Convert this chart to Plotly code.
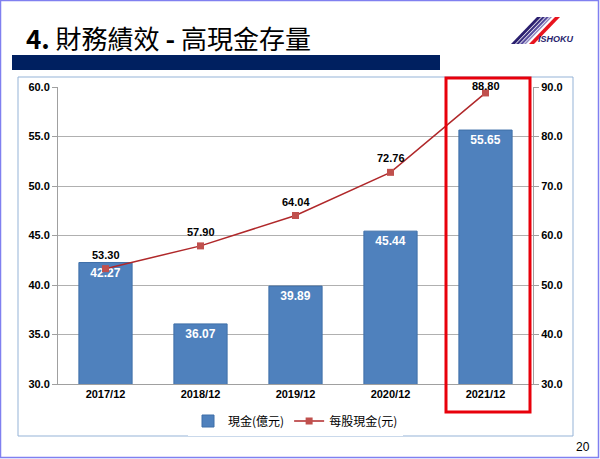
import plotly.graph_objects as go

categories = ["2017/12", "2018/12", "2019/12", "2020/12", "2021/12"]
cash = [42.27, 36.07, 39.89, 45.44, 55.65]
cash_per_share = [53.30, 57.90, 64.04, 72.76, 88.80]
left_ticks = [30, 35, 40, 45, 50, 55, 60]
right_ticks = [30, 40, 50, 60, 70, 80, 90]

W, H = 600, 459
L, R, T, B = 58, 533, 87, 384
Y2_MIN, Y2_MAX = 30, 90


def px(X):
    return (X - L) / (R - L)


def py(Y):
    return (B - Y) / (B - T)


fig = go.Figure()
fig.add_trace(go.Bar(
    x=categories, y=cash, name="現金(億元)",
    marker=dict(color="#4F81BD", line=dict(color="#3E6FA8", width=1)),
    width=0.56,
    text=[f"{v:.2f}" for v in cash], textposition="inside", insidetextanchor="end",
    textfont=dict(color="white", size=12, family="Liberation Sans"),
    texttemplate="<b>%{text}</b>",
))
fig.add_trace(go.Scatter(
    x=categories, y=cash_per_share, name="每股現金(元)", yaxis="y2",
    mode="lines+markers",
    line=dict(color="#B0282A", width=1.5),
    marker=dict(symbol="square", size=7, color="#C0504D"),
    cliponaxis=False,
))

shapes = []
# outer slide border
shapes.append(dict(type="rect", xref="paper", yref="paper", x0=px(0.5), x1=px(598.5), y0=py(0.5), y1=py(457.5),
                   line=dict(color="#8080F0", width=1.5)))
# chart frame
shapes.append(dict(type="rect", xref="paper", yref="paper", x0=px(18), x1=px(573), y0=py(77), y1=py(436),
                   line=dict(color="#95B3D7", width=1)))
# navy bar under title
shapes.append(dict(type="rect", xref="paper", yref="paper", x0=px(12), x1=px(440), y0=py(55), y1=py(70),
                   fillcolor="#002060", line=dict(width=0)))
# highlight rect
shapes.append(dict(type="rect", xref="paper", yref="paper", x0=px(446), x1=px(530), y0=py(78), y1=py(412),
                   line=dict(color="#E8000B", width=3)))


# logo stripes
def para(x_bl, w, color):
    xb0, xb1 = x_bl, x_bl + w
    dx = 26
    yb, yt = 44, 17
    path = (f"M {px(xb0)} {py(yb)} L {px(xb1)} {py(yb)} L {px(xb1 + dx)} {py(yt)} "
            f"L {px(xb0 + dx)} {py(yt)} Z")
    return dict(type="path", xref="paper", yref="paper", path=path, fillcolor=color, line=dict(width=0))


shapes.append(para(511, 4, "#2A1F6E"))
shapes.append(para(516, 3, "#3A2F80"))
shapes.append(para(520, 3, "#5A4FA0"))
shapes.append(para(524, 2, "#8E88C0"))
shapes.append(para(529, 5, "#E8141E"))

annotations = [
    dict(text="<b>4.</b> 財務績效 <b>-</b> 高現金存量", xref="paper", yref="paper", x=px(24), y=py(38),
         xanchor="left", yanchor="middle", showarrow=False,
         font=dict(size=26, color="black", family="Noto Sans CJK TC")),
    dict(text="<i><b>ISHOKU</b></i>", xref="paper", yref="paper", x=px(536), y=py(39),
         xanchor="left", yanchor="middle", showarrow=False,
         font=dict(size=9, color="#2A1F6E", family="Liberation Sans")),
    dict(text="20", xref="paper", yref="paper", x=px(592), y=py(447),
         xanchor="right", yanchor="middle", showarrow=False,
         font=dict(size=12, color="black", family="Liberation Sans")),
]

# line data labels: above each point, kept inside the plot top
for c, v in zip(categories, cash_per_share):
    ypix = B - (v - Y2_MIN) / (Y2_MAX - Y2_MIN) * (B - T)
    shift = min(14, ypix - 86)
    annotations.append(dict(text=f"<b>{v:.2f}</b>", x=c, y=v, xref="x", yref="y2",
                            yshift=shift, showarrow=False, yanchor="middle",
                            font=dict(size=11, color="black", family="Liberation Sans")))

fig.update_layout(
    width=W, height=H,
    margin=dict(l=L, r=W - R, t=T, b=H - B),
    paper_bgcolor="white", plot_bgcolor="white",
    shapes=shapes, annotations=annotations,
    showlegend=True,
    legend=dict(orientation="h", x=0.5, xanchor="center", y=py(421), yanchor="middle",
                font=dict(size=12, color="black", family="Noto Sans CJK TC"),
                itemwidth=30, tracegroupgap=0),
    xaxis=dict(showgrid=False, showline=True, linecolor="#A0A0A0", ticks="",
               tickfont=dict(size=11, color="black", family="Liberation Sans", weight="bold")),
    yaxis=dict(range=[30, 60], tickvals=left_ticks, ticktext=[f"{v:.1f}" for v in left_ticks],
               showgrid=True, gridcolor="#B0B0B0", gridwidth=1,
               showline=True, linecolor="#A0A0A0", ticks="outside", ticklen=5, tickcolor="#A0A0A0",
               tickfont=dict(size=11, color="black", family="Liberation Sans", weight="bold"),
               zeroline=False),
    yaxis2=dict(range=[Y2_MIN, Y2_MAX], tickvals=right_ticks, ticktext=[f"{v:.1f}" for v in right_ticks],
                overlaying="y", side="right", showgrid=False,
                showline=True, linecolor="#A0A0A0", ticks="outside", ticklen=5, tickcolor="#A0A0A0",
                tickfont=dict(size=11, color="black", family="Liberation Sans", weight="bold"),
                zeroline=False),
    bargap=0.44,
)

fig.write_html("out.html", config={"displayModeBar": False},
               post_script="document.body.style.margin='0';document.body.style.overflow='hidden';")
